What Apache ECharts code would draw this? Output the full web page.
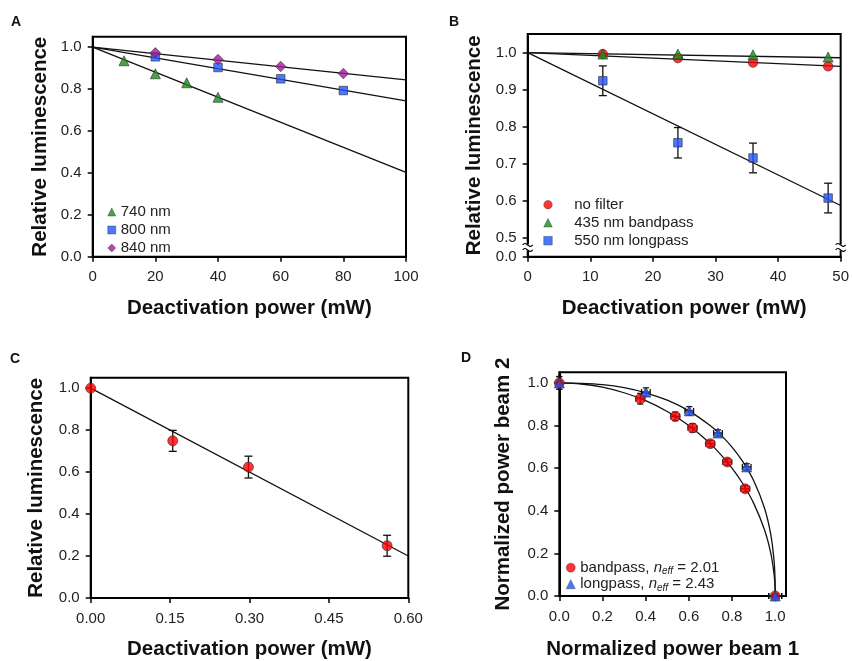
<!DOCTYPE html>
<html><head><meta charset="utf-8">
<script src="https://cdn.jsdelivr.net/npm/echarts@6/dist/echarts.min.js"></script>
<style>html,body{margin:0;padding:0;background:#fff}#c{width:852px;height:661px}</style>
</head><body><div id="c"></div>
<script>
// ---------- Panel A ----------
const aX740 = [10, 20, 30, 40];
const aY740 = [0.935, 0.873, 0.830, 0.761];
const aX800 = [20, 40, 60, 80];
const aY800 = [0.954, 0.903, 0.849, 0.793];
const aX840 = [20, 40, 60, 80];
const aY840 = [0.973, 0.941, 0.908, 0.874];
const aFitX = [0, 100];
const aFit740 = [1.0, 0.402];
const aFit800 = [1.0, 0.744];
const aFit840 = [1.0, 0.844];
const aXTicks = [0, 20, 40, 60, 80, 100];
const aYTicks = [0, 0.2, 0.4, 0.6, 0.8, 1.0];
// ---------- Panel B ----------
const bX = [12, 24, 36, 48];
const bNoFilter = [0.996, 0.985, 0.973, 0.963];
const bBandpass = [0.996, 0.996, 0.994, 0.988];
const bLongpass = [0.924, 0.757, 0.716, 0.608];
const bLongErr = [0.040, 0.041, 0.040, 0.040];
const bFitX = [0, 50];
const bFitNo = [1.0, 0.963];
const bFitBand = [1.0, 0.986];
const bFitLong = [1.0, 0.588];
const bXTicks = [0, 10, 20, 30, 40, 50];
const bYTicks = [0.45, 0.5, 0.6, 0.7, 0.8, 0.9, 1.0];
const bYTickLabels = ['0.0', '0.5', '0.6', '0.7', '0.8', '0.9', '1.0'];
// ---------- Panel C ----------
const cX = [0, 0.155, 0.298, 0.56];
const cY = [1.0, 0.749, 0.624, 0.249];
const cErr = [0, 0.050, 0.052, 0.050];
const cFitX = [0, 0.6];
const cFitY = [1.0, 0.2];
const cXTicks = [0, 0.15, 0.30, 0.45, 0.60];
const cYTicks = [0, 0.2, 0.4, 0.6, 0.8, 1.0];
// ---------- Panel D ----------
const dBandX = [0, 0.375, 0.537, 0.617, 0.699, 0.778, 0.861, 1.0];
const dBandY = [1.0, 0.926, 0.843, 0.789, 0.715, 0.629, 0.503, 0];
const dBandXErr = [0.01, 0.02, 0.02, 0.02, 0.02, 0.02, 0.02, 0.03];
const dBandYErr = [0.03, 0.025, 0.02, 0.02, 0.015, 0.015, 0.015, 0.01];
const dLongX = [0, 0.401, 0.602, 0.735, 0.868, 1.0];
const dLongY = [1.0, 0.957, 0.869, 0.765, 0.606, 0];
const dLongXErr = [0.01, 0.02, 0.02, 0.02, 0.02, 0.03];
const dLongYErr = [0.03, 0.02, 0.02, 0.015, 0.015, 0.01];
const dCurveX = [0, 0.1, 0.2, 0.3, 0.4, 0.5, 0.6, 0.7, 0.75, 0.8, 0.85, 0.9, 0.95, 0.98, 0.995, 0.999, 1.0];
const dCurveBand = [1.0, 0.995, 0.980, 0.954, 0.917, 0.866, 0.800, 0.714, 0.661, 0.600, 0.527, 0.436, 0.312, 0.199, 0.100, 0.045, 0];
const dCurveLong = [1.0, 0.998, 0.992, 0.978, 0.954, 0.919, 0.869, 0.799, 0.754, 0.699, 0.631, 0.542, 0.414, 0.286, 0.163, 0.084, 0];
const dXTicks = [0, 0.2, 0.4, 0.6, 0.8, 1.0];
const dYTicks = [0, 0.2, 0.4, 0.6, 0.8, 1.0];

const FONT = '"Liberation Sans", Arial, sans-serif';
const RED = '#ff0000', GREEN = '#1a8c1a', BLUE = '#1f55ff', PURPLE = '#a01c9c';
const EDGE = {borderColor: '#333', borderWidth: 0.8};

const zip = (xs, ys) => xs.map((x, i) => [x, ys[i]]);

function axis(gi, min, max, ticks, fmt, name, gap, isY) {
  return {
    type: 'value', gridIndex: gi, min: min, max: max,
    name: name, nameLocation: 'middle', nameGap: gap,
    nameTextStyle: {fontFamily: FONT, fontWeight: 'bold', fontSize: 20.5, color: '#111'},
    axisLine: {show: true, onZero: false, lineStyle: {color: '#000', width: 2}},
    axisTick: {show: true, inside: false, length: 5, customValues: ticks, lineStyle: {color: '#000', width: 1.5}},
    axisLabel: {customValues: ticks, formatter: fmt, fontFamily: FONT, fontSize: 15, color: '#222', margin: isY ? 11 : 13},
    splitLine: {show: false}
  };
}

function errSeries(name, gi, data, cap, z) {
  return {
    name: name, type: 'custom', xAxisIndex: gi, yAxisIndex: gi, z: z || 3, silent: true,
    data: data,
    encode: {x: 0, y: 1},
    renderItem: function (params, api) {
      const x = api.value(0), y = api.value(1), ex = api.value(2), ey = api.value(3);
      const st = {stroke: '#111', lineWidth: 1.3};
      const ch = [];
      if (ey > 0) {
        const p1 = api.coord([x, y + ey]), p2 = api.coord([x, y - ey]);
        ch.push({type: 'line', shape: {x1: p1[0], y1: p1[1], x2: p2[0], y2: p2[1]}, style: st});
        ch.push({type: 'line', shape: {x1: p1[0] - cap, y1: p1[1], x2: p1[0] + cap, y2: p1[1]}, style: st});
        ch.push({type: 'line', shape: {x1: p2[0] - cap, y1: p2[1], x2: p2[0] + cap, y2: p2[1]}, style: st});
      }
      if (ex > 0) {
        const p1 = api.coord([x - ex, y]), p2 = api.coord([x + ex, y]);
        ch.push({type: 'line', shape: {x1: p1[0], y1: p1[1], x2: p2[0], y2: p2[1]}, style: st});
        ch.push({type: 'line', shape: {x1: p1[0], y1: p1[1] - cap, x2: p1[0], y2: p1[1] + cap}, style: st});
        ch.push({type: 'line', shape: {x1: p2[0], y1: p2[1] - cap, x2: p2[0], y2: p2[1] + cap}, style: st});
      }
      return {type: 'group', children: ch};
    }
  };
}

function fitLine(name, gi, data, smooth) {
  return {name: name, type: 'line', xAxisIndex: gi, yAxisIndex: gi, data: data, showSymbol: false,
    smooth: smooth || false, silent: true, z: 2,
    lineStyle: {color: '#111', width: 1.3}};
}
function scat(name, gi, data, symbol, size, color) {
  return {name: name, type: 'scatter', xAxisIndex: gi, yAxisIndex: gi, data: data,
    symbol: symbol, symbolSize: size, z: 5, itemStyle: Object.assign({color: color}, EDGE)};
}

const f1 = v => v.toFixed(1);
const f0 = v => String(v);

const legendText = {fontFamily: FONT, fontSize: 15, color: '#222'};
const legendItem = {borderColor: '#333', borderWidth: 0.5};

const option = {
  backgroundColor: '#fff',
  animation: false,
  grid: [
    {left: 92.7, top: 36.7, width: 313.3, height: 220, show: true, borderColor: '#000', borderWidth: 2},
    {left: 527.7, top: 34, width: 317.3, height: 222.7, show: true, borderColor: '#000', borderWidth: 2},
    {left: 90.7, top: 377.7, width: 317.6, height: 223.3, show: true, borderColor: '#000', borderWidth: 2},
    {left: 559.3, top: 372.3, width: 226.7, height: 227.7, show: true, borderColor: '#000', borderWidth: 2}
  ],
  xAxis: [
    axis(0, 0, 100, aXTicks, f0, 'Deactivation power (mW)', 41, false),
    axis(1, 0, 50, bXTicks, f0, 'Deactivation power (mW)', 41, false),
    axis(2, 0, 0.6, cXTicks, v => v.toFixed(2), 'Deactivation power (mW)', 41, false),
    axis(3, 0, 1.05, dXTicks, f1, 'Normalized power beam 1', 43, false)
  ],
  yAxis: [
    axis(0, 0, 1.05, aYTicks, f1, 'Relative luminescence', 42, true),
    axis(1, 0.45, 1.05, bYTicks, v => bYTickLabels[bYTicks.indexOf(v)] || f1(v), 'Relative luminescence', 43, true),
    axis(2, 0, 1.05, cYTicks, f1, 'Relative luminescence', 44, true),
    axis(3, 0, 1.05, dYTicks, f1, 'Normalized power beam 2', 45, true)
  ],
  legend: [
    {data: ['740 nm', '800 nm', '840 nm'], orient: 'vertical', left: 102.5, top: 199.5,
      itemWidth: 8, itemHeight: 8, itemGap: 3, selectedMode: false, textStyle: legendText, itemStyle: legendItem},
    {data: ['no filter', '435 nm bandpass', '550 nm longpass'], orient: 'vertical', left: 538.5, top: 192.2,
      itemWidth: 8.5, itemHeight: 8.5, itemGap: 3, selectedMode: false, itemStyle: legendItem,
      textStyle: Object.assign({padding: [0, 0, 0, 17]}, legendText)},
    {data: ['bandpass', 'longpass'], orient: 'vertical', left: 561, top: 555.2,
      itemWidth: 9, itemHeight: 9, itemGap: 0, selectedMode: false, itemStyle: legendItem,
      formatter: function (n) {
        return n === 'bandpass' ? '{t|bandpass, }{i|n}{s|eff}{t| = 2.01}' : '{t|longpass, }{i|n}{s|eff}{t| = 2.43}';
      },
      textStyle: {fontFamily: FONT, fontSize: 15, color: '#222', rich: {
        t: {fontFamily: FONT, fontSize: 15, color: '#222', lineHeight: 18},
        i: {fontFamily: FONT, fontSize: 15, color: '#222', fontStyle: 'italic', lineHeight: 18},
        s: {fontFamily: FONT, fontSize: 10, color: '#222', fontStyle: 'italic', lineHeight: 8, verticalAlign: 'bottom'}
      }}}
  ],
  series: [
    // A
    fitLine('fitA740', 0, zip(aFitX, aFit740)),
    fitLine('fitA800', 0, zip(aFitX, aFit800)),
    fitLine('fitA840', 0, zip(aFitX, aFit840)),
    scat('740 nm', 0, zip(aX740, aY740), 'triangle', 10, GREEN),
    scat('800 nm', 0, zip(aX800, aY800), 'rect', 8.5, BLUE),
    scat('840 nm', 0, zip(aX840, aY840), 'diamond', 10.5, PURPLE),
    // B
    fitLine('fitBno', 1, zip(bFitX, bFitNo)),
    fitLine('fitBband', 1, zip(bFitX, bFitBand)),
    fitLine('fitBlong', 1, zip(bFitX, bFitLong)),
    errSeries('errB', 1, bX.map((x, i) => [x, bLongpass[i], 0, bLongErr[i]]), 4),
    scat('no filter', 1, zip(bX, bNoFilter), 'circle', 9.5, RED),
    scat('435 nm bandpass', 1, zip(bX, bBandpass), 'triangle', 10, GREEN),
    scat('550 nm longpass', 1, zip(bX, bLongpass), 'rect', 8.5, BLUE),
    // C
    fitLine('fitC', 2, zip(cFitX, cFitY)),
    errSeries('errC', 2, cX.map((x, i) => [x, cY[i], 0, cErr[i]]), 4),
    scat('cData', 2, zip(cX, cY), 'circle', 10, RED),
    // D
    fitLine('fitDband', 3, zip(dCurveX, dCurveBand), 0.3),
    fitLine('fitDlong', 3, zip(dCurveX, dCurveLong), 0.3),
    errSeries('errDband', 3, dBandX.map((x, i) => [x, dBandY[i], dBandXErr[i], dBandYErr[i]]), 3),
    errSeries('errDlong', 3, dLongX.map((x, i) => [x, dLongY[i], dLongXErr[i], dLongYErr[i]]), 3),
    scat('bandpass', 3, zip(dBandX, dBandY), 'circle', 10, RED),
    scat('longpass', 3, zip(dLongX, dLongY), 'triangle', 10, BLUE)
  ]
};

const chart = echarts.init(document.getElementById('c'), null, {renderer: 'canvas'});
chart.setOption(option);

// panel letters and axis-break marks
const letterStyle = {fontFamily: FONT, fontWeight: 'bold', fontSize: 14, fill: '#111'};
const graphics = [
  {type: 'text', left: 11, top: 15, style: Object.assign({text: 'A'}, letterStyle)},
  {type: 'text', left: 449, top: 15, style: Object.assign({text: 'B'}, letterStyle)},
  {type: 'text', left: 10, top: 352, style: Object.assign({text: 'C'}, letterStyle)},
  {type: 'text', left: 461, top: 351, style: Object.assign({text: 'D'}, letterStyle)}
];
[[0, 0.475], [50, 0.475]].forEach(function (v) {
  const p = chart.convertToPixel({gridIndex: 1}, v);
  const x = p[0], y = p[1];
  graphics.push({type: 'rect', shape: {x: x - 4, y: y - 3, width: 8, height: 6}, style: {fill: '#fff'}, z: 100});
  [-2.5, 2.5].forEach(function (dy) {
    graphics.push({type: 'bezierCurve', z: 101,
      shape: {x1: x - 5, y1: y + dy, cpx1: x - 1.5, cpy1: y + dy - 5, cpx2: x + 1.5, cpy2: y + dy + 5, x2: x + 5, y2: y + dy},
      style: {fill: null, stroke: '#000', lineWidth: 1.2}});
  });
});
chart.setOption({graphic: graphics});
</script></body></html>
